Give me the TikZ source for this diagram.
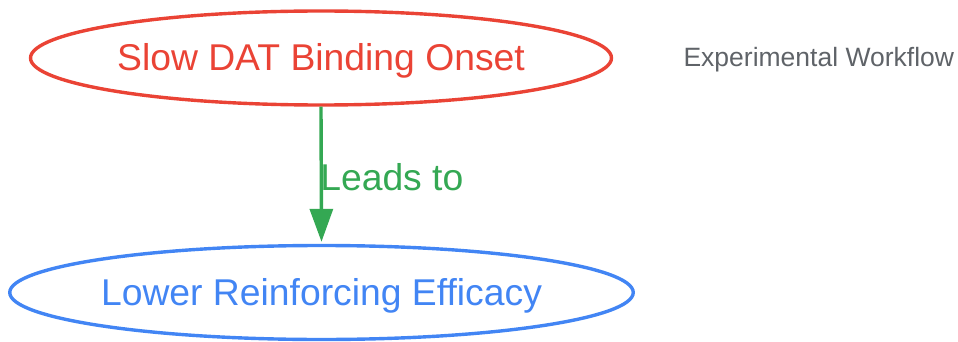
\documentclass[tikz,border=0pt]{standalone}
\usepackage{fontspec}
\setmainfont{Liberation Sans}
\usetikzlibrary{shapes.geometric,arrows.meta}
\definecolor{effred}{HTML}{EA4335}
\definecolor{effblue}{HTML}{4285F4}
\definecolor{effgreen}{HTML}{34A853}
\definecolor{effgray}{HTML}{5F6368}
\tikzset{
  effnode/.style={ellipse, line width=3.4pt, inner sep=0pt, text height=29pt, text depth=3pt, font=\fontsize{37.3}{40}\selectfont},
  efflink/.style={line width=3.4pt, effgreen, -{Triangle[length=33pt,width=23pt]}}
}
\begin{document}
\begin{tikzpicture}[x=1pt,y=-1pt]
        \useasboundingbox (0,0) rectangle (958,342);
        
        % Onset node
        \node [effnode, draw=effred, text=effred, minimum width=581pt, minimum height=94pt] (onset) at (321,58) {Slow DAT Binding Onset};%
        
        % Efficacy node
        \node [effnode, draw=effblue, text=effblue, minimum width=622pt, minimum height=94pt] (efficacy) at (321.5,292.5) {Lower Reinforcing Efficacy};%
        
        % Title
        \node [anchor=west, text=effgray, font=\fontsize{26.5}{28}\selectfont] (title) at (680,60) {Experimental Workflow};%
        
        % Link between nodes
        \draw [efflink, shorten >=2pt] (onset.south) -- (efficacy.north) node [midway, anchor=west, xshift=-6pt, yshift=-2pt, text=effgreen, font=\fontsize{37.3}{40}\selectfont] (leads) {Leads to};%
    \end{tikzpicture}
\end{document}
